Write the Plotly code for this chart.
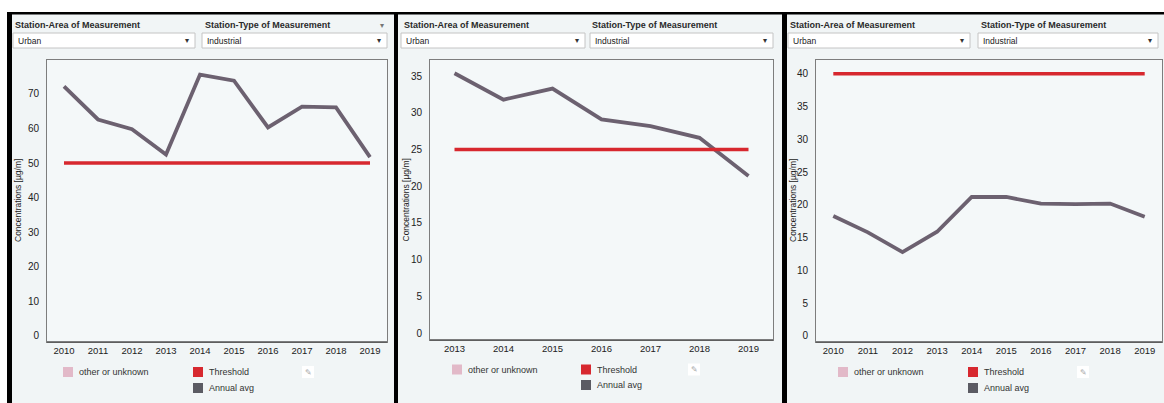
import plotly.graph_objects as go

# ---- data -------------------------------------------------------------
years_a = ["2010", "2011", "2012", "2013", "2014", "2015", "2016", "2017", "2018", "2019"]
conc_a = [72.2, 62.6, 59.8, 52.5, 75.6, 73.8, 60.3, 66.3, 66.1, 51.7]

years_b = ["2013", "2014", "2015", "2016", "2017", "2018", "2019"]
conc_b = [35.4, 31.8, 33.3, 29.1, 28.2, 26.6, 21.4]

years_c = ["2010", "2011", "2012", "2013", "2014", "2015", "2016", "2017", "2018", "2019"]
conc_c = [18.3, 15.8, 12.8, 15.9, 21.2, 21.2, 20.2, 20.1, 20.2, 18.2]

thresholds = [50, 25, 40]

yticks_a = [0, 10, 20, 30, 40, 50, 60, 70]
yticks_b = [0, 5, 10, 15, 20, 25, 30, 35]
yticks_c = [0, 5, 10, 15, 20, 25, 30, 35, 40]

filter_titles = ["Station-Area of Measurement", "Station-Type of Measurement"]
filter_values = ["Urban", "Industrial"]
legend_labels = ["other or unknown", "Threshold", "Annual avg"]
y_title = "Concentrations [µg/m]"

# ---- styling ----------------------------------------------------------
W, H = 1164, 403
FONT = "Liberation Sans, Arial, sans-serif"
PANEL_BG = "#f1f5f6"
PLOT_BG = "#f4f8f9"
LINE_COLOR = "#6c6170"
THRESH_COLOR = "#d7282f"
PINK = "#e2b9c8"
DARK = "#5b5b63"


def fx(x):
    return x / W


def fy(y):
    return 1 - y / H


# pixel layout of the three dashboard panels
panels = [
    dict(x0=8, x1=397, plot=(47, 387, 60, 342), lab=(13, 203), box1=(13, 195), box2=(202, 387),
         leg=(63, 193, 372, 388), pencil=308, ytitle=18, yrange=(-1.74, 79.8), extra_arrow=True),
    dict(x0=397, x1=784, plot=(430, 773, 60, 340), lab=(402, 590), box1=(401, 585), box2=(590, 773),
         leg=(452, 581, 369.5, 385), pencil=694, ytitle=405.5, yrange=(-0.95, 37.2), extra_arrow=False),
    dict(x0=784, x1=1164, plot=(816, 1162, 60, 342), lab=(788, 979), box1=(788, 970), box2=(978, 1158),
         leg=(838, 968, 372, 388), pencil=1083, ytitle=793, yrange=(-0.92, 42.1), extra_arrow=False),
]
series = [(years_a, conc_a, yticks_a), (years_b, conc_b, yticks_b), (years_c, conc_c, yticks_c)]

fig = go.Figure()
shapes = []
annotations = []

for i, (p, (yrs, vals, ticks)) in enumerate(zip(panels, series)):
    n = i + 1
    xa = "x" if n == 1 else f"x{n}"
    ya = "y" if n == 1 else f"y{n}"
    px0, px1, py0, py1 = p["plot"]

    # panel and plot-area backgrounds
    shapes.append(dict(type="rect", xref="paper", yref="paper", layer="below",
                       x0=fx(p["x0"]), x1=fx(p["x1"]), y0=fy(403), y1=fy(13),
                       fillcolor=PANEL_BG, line_width=0))
    shapes.append(dict(type="rect", xref="paper", yref="paper", layer="below",
                       x0=fx(px0), x1=fx(px1), y0=fy(py1), y1=fy(py0),
                       fillcolor=PLOT_BG, line_width=0))

    # annual average line and threshold line
    fig.add_trace(go.Scatter(x=yrs, y=vals, mode="lines", xaxis=xa, yaxis=ya,
                             line=dict(color=LINE_COLOR, width=3.8), showlegend=False,
                             hoverinfo="skip"))
    fig.add_trace(go.Scatter(x=yrs, y=[thresholds[i]] * len(yrs), mode="lines", xaxis=xa, yaxis=ya,
                             line=dict(color=THRESH_COLOR, width=3.6), showlegend=False,
                             hoverinfo="skip"))

    xkey = "xaxis" if n == 1 else f"xaxis{n}"
    ykey = "yaxis" if n == 1 else f"yaxis{n}"
    fig.update_layout({
        xkey: dict(domain=[fx(px0), fx(px1)], anchor=ya, type="category",
                   range=[-0.5, len(yrs) - 0.5], showgrid=False, zeroline=False,
                   showline=True, mirror=True, linecolor="#7d7d7d", linewidth=1,
                   ticks="", tickfont=dict(family=FONT, size=9.5, color="#222222"),
                   fixedrange=True),
        ykey: dict(domain=[fy(py1), fy(py0)], anchor=xa, range=list(p["yrange"]),
                   tickvals=ticks, showgrid=False, zeroline=False,
                   showline=True, mirror=True, linecolor="#7d7d7d", linewidth=1,
                   ticks="", ticklabelstandoff=5,
                   tickfont=dict(family=FONT, size=10, color="#222222"), fixedrange=True),
    })
    # darker baseline along the bottom of the plot
    shapes.append(dict(type="line", xref="paper", yref="paper", layer="above",
                       x0=fx(px0), x1=fx(px1), y0=fy(py1), y1=fy(py1),
                       line=dict(color="#555555", width=1.5)))

    # y-axis title
    annotations.append(dict(xref="paper", yref="paper", x=fx(p["ytitle"]), y=fy((py0 + py1) / 2),
                            text=y_title, textangle=-90, showarrow=False,
                            font=dict(family=FONT, size=8.5, color="#222222"),
                            xanchor="center", yanchor="middle"))

    # filter titles and dropdown boxes
    for lx, title in zip(p["lab"], filter_titles):
        annotations.append(dict(xref="paper", yref="paper", x=fx(lx), y=fy(25), text=f"<b>{title}</b>",
                                showarrow=False, xanchor="left", yanchor="middle",
                                font=dict(family=FONT, size=9, color="#2a2a2a")))
    for (bx0, bx1), val in zip((p["box1"], p["box2"]), filter_values):
        shapes.append(dict(type="rect", xref="paper", yref="paper", layer="below",
                           x0=fx(bx0), x1=fx(bx1), y0=fy(48), y1=fy(33),
                           fillcolor="#ffffff", line=dict(color="#c4c4c4", width=1)))
        annotations.append(dict(xref="paper", yref="paper", x=fx(bx0 + 3), y=fy(41), text=val,
                                showarrow=False, xanchor="left", yanchor="middle",
                                font=dict(family=FONT, size=8.5, color="#222222")))
        annotations.append(dict(xref="paper", yref="paper", x=fx(bx1 - 8), y=fy(41), text="▾",
                                showarrow=False, xanchor="center", yanchor="middle",
                                font=dict(family="DejaVu Sans", size=8, color="#333333")))
    if p["extra_arrow"]:
        annotations.append(dict(xref="paper", yref="paper", x=fx(p["box2"][1] - 5), y=fy(26), text="▾",
                                showarrow=False, xanchor="center", yanchor="middle",
                                font=dict(family="DejaVu Sans", size=8, color="#777777")))

    # legend swatches
    lx_pink, lx_red, ly1, ly2 = p["leg"]
    swatches = [(lx_pink, ly1, PINK, legend_labels[0]),
                (lx_red, ly1, THRESH_COLOR, legend_labels[1]),
                (lx_red, ly2, DARK, legend_labels[2])]
    for sx, sy, col, lab in swatches:
        shapes.append(dict(type="rect", xref="paper", yref="paper", layer="above",
                           x0=fx(sx), x1=fx(sx + 10), y0=fy(sy + 5), y1=fy(sy - 5),
                           fillcolor=col, line_width=0))
        annotations.append(dict(xref="paper", yref="paper", x=fx(sx + 14), y=fy(sy), text=lab,
                                showarrow=False, xanchor="left", yanchor="middle",
                                font=dict(family=FONT, size=9, color="#333333")))

    # small edit icon
    pc = p["pencil"]
    shapes.append(dict(type="rect", xref="paper", yref="paper", layer="above",
                       x0=fx(pc - 6), x1=fx(pc + 6), y0=fy(ly1 + 6), y1=fy(ly1 - 6),
                       fillcolor="#ffffff", line_width=0))
    annotations.append(dict(xref="paper", yref="paper", x=fx(pc), y=fy(ly1), text="✎",
                            showarrow=False, xanchor="center", yanchor="middle",
                            font=dict(family="DejaVu Sans", size=8, color="#aaaaaa")))

# black frame pieces between and around the panels
for bx0, by0, bx1, by1 in [(7, 12, 1164, 14.5),   # top edge
                           (7, 12, 12, 403),      # left edge of first panel
                           (394, 12, 398, 403),   # divider 1|2
                           (782, 12, 787, 403)]:  # divider 2|3
    shapes.append(dict(type="rect", xref="paper", yref="paper", layer="above",
                       x0=fx(bx0), x1=fx(bx1), y0=fy(by1), y1=fy(by0),
                       fillcolor="#000000", line_width=0))

fig.update_layout(
    width=W, height=H,
    margin=dict(l=0, r=0, t=0, b=0),
    paper_bgcolor="#ffffff",
    plot_bgcolor="rgba(0,0,0,0)",
    showlegend=False,
    shapes=shapes,
    annotations=annotations,
    font=dict(family=FONT),
)

fig.write_html("out.html", config={"displayModeBar": False})
